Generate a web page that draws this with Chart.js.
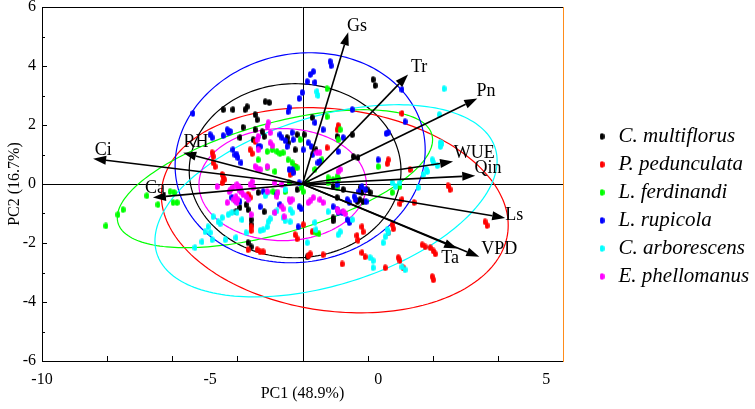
<!DOCTYPE html>
<html><head><meta charset="utf-8">
<script src="https://cdn.jsdelivr.net/npm/chart.js@4.4.0/dist/chart.umd.min.js"></script>
<style>html,body{margin:0;padding:0;background:#fff}#wrap{width:755px;height:409px}</style>
</head><body><div id="wrap"><canvas id="c" width="755" height="409"></canvas></div>
<script>
// ---------- data ----------
const speciesNames = ['C. multiflorus','P. pedunculata','L. ferdinandi','L. rupicola','C. arborescens','E. phellomanus'];
const speciesColors = ['#000000','#FF0000','#00FF00','#0000FF','#00FFFF','#FF00FF'];

const cMultiflorus = [[-4.32,2.52],[-3.96,2.52],[-3.90,2.62],[-3.66,2.35],[-3.60,2.18],[-3.36,2.79],[-3.24,2.76],[-4.02,1.92],[-4.11,1.57],[-3.66,1.84],[-3.72,1.50],[-3.45,1.77],[-0.15,3.54],[-0.09,3.34],[-1.96,2.25],[-0.77,1.67],[-0.74,0.93],[-0.60,0.89],[-1.34,-0.09],[-1.04,-0.19],[-2.41,1.67],[-2.47,1.16],[-3.39,1.61],[-2.71,1.57],[-2.68,1.40],[-2.20,1.67],[-1.85,1.16],[-1.22,1.61],[-0.51,-0.12],[-0.48,-0.29],[-0.62,-0.60],[-1.34,-1.15],[-1.34,-1.25],[-3.93,-0.70],[-3.87,-0.87],[-4.23,-0.94],[-3.78,-1.21],[-3.78,-1.38],[-3.87,-1.99],[-3.78,-2.13],[-3.39,-0.94],[-2.11,-2.47],[-4.11,-0.80],[-3.57,-0.29],[-2.41,-0.19],[-1.22,-0.46],[-0.33,-0.19],[-0.24,-0.29],[-4.61,2.52],[-0.54,-0.53],[-0.45,-0.60]];
const pPedunculata = [[-4.94,1.06],[-4.91,0.93],[-4.91,0.72],[-4.85,0.59],[-4.64,0.32],[-4.61,0.21],[-4.64,0.04],[-3.81,1.16],[-3.75,1.03],[-3.66,1.44],[-2.62,0.32],[-2.53,0.42],[-1.52,1.23],[-1.22,1.84],[-1.19,1.98],[0.71,2.39],[0.30,0.82],[0.27,0.69],[0.95,0.49],[2.08,-0.06],[2.14,-0.19],[3.18,-1.28],[3.24,-1.41],[1.31,-2.06],[1.40,-2.13],[1.55,-2.16],[1.64,-2.27],[1.70,-2.37],[0.60,-2.50],[0.65,-2.60],[0.21,-2.84],[1.61,-3.14],[1.64,-3.25],[0.71,-0.53],[0.65,-0.67],[0.42,-1.38],[0.45,-1.52],[-2.23,-1.38],[-2.47,-1.72],[-2.41,-1.86],[-2.08,-2.44],[-2.02,-2.37],[-1.64,-2.40],[-1.07,-2.71],[-0.63,-1.75],[-0.60,-1.91],[-0.48,-2.33],[-0.39,-2.47],[0.74,-2.84],[-3.42,-2.30],[-3.87,-0.36],[-3.81,-0.46],[-3.87,-2.23],[-3.60,-2.23],[-3.51,-2.30],[-1.96,-1.62],[-0.48,-1.45],[-0.45,-1.62],[-3.78,-1.45],[-3.78,-1.58],[-4.58,0.15],[-2.47,0.59],[1.07,-0.63],[0.30,-1.65]];
const lFerdinandi = [[-8.10,-1.42],[-7.74,-1.04],[-7.59,-0.87],[-6.88,-0.40],[-6.55,-0.70],[-6.19,-0.26],[-6.07,-0.29],[-6.10,-0.63],[-5.98,-0.63],[-2.83,1.06],[-2.68,0.82],[-3.15,1.16],[-3.07,0.42],[-1.52,2.28],[-1.13,1.84],[-1.19,1.50],[-1.22,0.25],[-1.19,0.18],[-1.49,0.21],[-2.11,0.04],[0.42,-0.29],[-3.57,0.82],[-3.30,0.55],[-1.52,3.23],[-3.30,1.10],[-3.01,1.10],[-2.92,1.03],[-2.56,0.72],[-2.50,0.59],[-2.29,-0.12],[-2.23,-0.26],[-2.65,0.04],[-1.49,0.04],[-1.34,0.15],[0.65,-0.09],[-1.85,-1.65],[-1.76,-1.69],[-2.77,-0.26],[-1.22,-0.12],[-3.13,-0.26],[-3.04,-0.29],[-2.41,0.55],[-2.32,1.50],[-1.88,0.49],[-1.67,0.82],[0.00,0.59]];
const lRupicola = [[-1.43,4.15],[-1.40,4.01],[-2.02,3.71],[-1.93,3.81],[-1.88,3.44],[-2.11,3.47],[-2.26,3.10],[-2.35,2.90],[-2.65,2.59],[-2.68,2.45],[-1.88,2.08],[-1.64,1.84],[-4.49,1.84],[-4.46,1.74],[-4.61,1.64],[-4.32,1.16],[-4.20,0.99],[-4.17,0.89],[-3.51,1.27],[-2.92,1.67],[-2.86,1.57],[-2.77,1.47],[-2.71,1.27],[-2.56,0.49],[-2.53,0.38],[-2.23,1.16],[-1.96,0.99],[-1.73,0.76],[-1.04,1.57],[-1.19,1.10],[0.00,0.82],[0.30,1.74],[-0.77,2.52],[-0.48,-0.09],[-0.39,-0.19],[0.71,3.20],[0.80,2.11],[-5.51,2.39],[-5.00,1.67],[-4.94,1.57],[-4.40,1.78],[-4.26,0.99],[-4.35,-0.46],[-4.23,-0.57],[-4.08,0.72],[-3.57,1.27],[-2.56,1.74],[-2.53,1.50],[-2.65,0.49],[-2.35,0.04],[-2.08,1.40],[-1.99,1.27],[-1.79,0.72],[-1.22,-0.02],[-0.92,-0.53],[-0.86,-0.63],[-0.71,-0.43],[0.24,1.71],[-4.11,-0.60],[-3.01,-0.36],[-2.92,-0.70],[-2.35,-0.77],[-2.29,-0.84],[-1.34,-0.77],[-1.22,-0.87],[-1.07,-0.97],[-0.57,-0.26],[-0.36,-0.60],[-3.51,-0.77],[-3.42,-0.26],[-2.38,-1.45],[-0.92,-1.21],[-0.86,-1.31],[-1.19,-0.97],[-0.68,-0.53]];
const cArborescens = [[1.96,3.23],[1.82,2.35],[1.85,1.40],[1.85,1.27],[1.61,0.82],[1.64,0.72],[1.46,0.42],[1.34,0.32],[1.76,0.62],[1.19,-0.12],[0.51,-0.09],[0.27,-1.55],[0.30,-1.65],[0.21,-1.79],[0.15,-1.99],[0.71,-2.81],[-0.24,-2.50],[-0.15,-2.60],[-0.15,-2.84],[0.80,-2.91],[-2.11,-1.99],[-1.13,-1.62],[-1.19,-1.72],[-3.42,-1.55],[-3.30,-1.45],[-2.62,-1.28],[-4.91,-1.11],[-4.76,-1.28],[-4.70,-1.35],[-5.00,-1.65],[-4.55,-1.89],[-4.35,-0.97],[-3.51,-1.58],[-3.27,-1.28],[-3.21,-1.18],[-3.07,-0.97],[-3.01,-0.91],[-2.83,-1.14],[-2.77,-1.25],[-2.62,-0.87],[-2.56,-0.97],[-1.88,-1.31],[-1.49,-0.94],[-3.36,-0.40],[-3.30,-0.29],[-4.05,-1.21],[-5.24,-1.96],[-5.15,-1.62],[-5.45,-2.16],[-5.06,-1.45],[-4.94,-1.89],[-4.64,-1.14],[-4.23,-1.82],[-3.93,-1.65],[-1.85,-1.55],[-0.77,-1.21],[1.43,0.49],[1.90,1.37],[0.65,0.04],[-1.82,3.13],[-1.79,3.00],[-2.77,-0.19],[0.42,0.04],[-4.46,-1.04],[-4.20,-0.97]];
const ePhellomanus = [[-3.51,0.49],[-4.14,-0.09],[-4.08,-0.16],[-4.02,-0.36],[-3.93,-0.43],[-3.87,-0.53],[-4.29,-0.53],[-4.23,-0.43],[-4.43,-0.26],[-4.38,-0.19],[-3.30,0.59],[-3.21,1.74],[-3.21,1.40],[-3.15,1.30],[-2.65,-0.53],[-3.78,-1.04],[-2.80,-1.11],[-1.93,-0.46],[-1.73,-0.53],[-1.64,-0.63],[-4.79,-0.09],[-4.49,-0.63],[-3.07,0.04],[-3.30,1.95],[-3.27,2.08],[-3.60,1.50],[-3.57,1.61],[-3.57,1.16],[-3.66,0.59],[-3.60,0.52],[-4.20,-0.02],[-4.17,-0.12],[-4.11,-0.23],[-4.05,-0.29],[-3.81,-0.02],[-3.72,-0.12],[-4.32,-0.12],[-1.82,1.06],[-1.73,1.06],[-1.19,0.42],[-1.13,0.49],[-2.86,-0.02],[-2.98,-0.29],[-3.75,0.08],[-3.01,-0.43],[-2.86,-0.77],[-2.83,-0.84],[-2.62,-0.60],[-2.56,-0.53],[-2.08,-0.63],[-2.02,-0.57],[-1.22,-0.87],[-1.19,-0.94],[-1.04,-0.94],[-0.98,-1.01],[-3.07,-0.97],[-3.30,-0.26],[-4.17,-0.53],[-4.20,-0.63]];
const speciesScores = [cMultiflorus, pPedunculata, lFerdinandi, lRupicola, cArborescens, ePhellomanus];

// confidence ellipses: centre and two conjugate semi-axis vectors (data units)
const ellipseCenterX = [-2.47, -1.29, -3.07, -2.32, -1.55, -2.84];
const ellipseCenterY = [ 0.45, -0.89,  0.18,  0.89, -0.57, -0.02];
const ellipsePx = [3.15, 5.16, 4.69, 3.72, 5.09, 2.49];
const ellipsePy = [0.00, -0.51, 1.32, 0.27, 1.36, 0.00];
const ellipseQy = [2.95, 3.44, 1.93, 3.55, 2.96, 1.90];

// loading vectors
const variableNames = ['Gs','Tr','Pn','WUE','Qin','Ls','VPD','Ta','Ci','RH','Ca'];
const loadingX = [-0.89, 0.89, 2.95, 2.23, 2.89, 3.78, 3.01, 2.35, -8.48, -5.80, -6.70];
const loadingY = [ 5.14, 3.71, 2.90, 0.76, 0.28, -1.15, -2.47, -2.19, 0.86, 1.06, -0.46];
const labelX = [-0.63, 1.22, 3.21, 2.86, 3.27, 4.05, 3.60, 2.14, -8.18, -5.42, -6.64];
const labelY = [ 5.34, 3.95, 3.16, 1.03, 0.55, -1.05, -2.20, -2.53, 1.13, 1.40, -0.16];
const arrowOrigin = [-2.25, 0];

const xTickLabels = [-10, -5, 0, 5];
const yTickLabels = [-6, -4, -2, 0, 2, 4, 6];
const xMinorTicks = [-8.0625, -6.125, -4.1875, -2.25, -0.3125, 1.625, 3.5625];
const yMinorTicks = [-5, -4, -3, -2, -1, 1, 2, 3, 4, 5];

// ---------- drawing ----------
const FONT = 'Liberation Serif';
function dot(color){
  const c = document.createElement('canvas'); c.width = 5; c.height = 7;
  const g = c.getContext('2d'); g.fillStyle = color;
  g.beginPath(); g.ellipse(2.5, 3.5, 2.4, 3.3, 0, 0, Math.PI*2); g.fill();
  return c;
}

const datasets = speciesNames.map((n, i) => ({
  label: n,
  data: speciesScores[i].map(p => ({x: p[0], y: p[1]})),
  backgroundColor: speciesColors[i],
  borderColor: speciesColors[i],
  pointStyle: dot(speciesColors[i]),
  pointRadius: 3,
  order: speciesNames.length - i
}));

const decor = {
  id: 'decor',
  beforeDatasetsDraw(chart){
    const {ctx, chartArea: a, scales: {x, y}} = chart;
    ctx.save();
    ctx.beginPath(); ctx.rect(a.left, a.top, a.right - a.left, a.bottom - a.top); ctx.clip();
    ctx.strokeStyle = '#000'; ctx.lineWidth = 1;
    ctx.beginPath();
    const vx = Math.round(x.getPixelForValue(arrowOrigin[0])) + 0.5;
    const hy = Math.round(y.getPixelForValue(arrowOrigin[1])) + 0.5;
    ctx.moveTo(vx, a.top); ctx.lineTo(vx, a.bottom);
    ctx.moveTo(a.left, hy); ctx.lineTo(a.right, hy);
    ctx.stroke();
    ctx.lineWidth = 1.2;
    for (let i = 0; i < speciesNames.length; i++) {
      ctx.strokeStyle = speciesColors[i];
      ctx.beginPath();
      for (let k = 0; k <= 200; k++) {
        const t = k / 200 * Math.PI * 2;
        const dx = ellipseCenterX[i] + ellipsePx[i] * Math.cos(t);
        const dy = ellipseCenterY[i] + ellipsePy[i] * Math.cos(t) + ellipseQy[i] * Math.sin(t);
        const px = x.getPixelForValue(dx), py = y.getPixelForValue(dy);
        if (k === 0) ctx.moveTo(px, py); else ctx.lineTo(px, py);
      }
      ctx.closePath(); ctx.stroke();
    }
    ctx.restore();
  },
  afterDatasetsDraw(chart){
    const {ctx, scales: {x, y}} = chart;
    ctx.save();
    const ox = x.getPixelForValue(arrowOrigin[0]), oy = y.getPixelForValue(arrowOrigin[1]);
    ctx.strokeStyle = '#000'; ctx.fillStyle = '#000'; ctx.lineWidth = 1.6;
    for (let i = 0; i < variableNames.length; i++) {
      const tx = x.getPixelForValue(loadingX[i]), ty = y.getPixelForValue(loadingY[i]);
      const ang = Math.atan2(ty - oy, tx - ox);
      const L = 13, W = 4.5;
      const bx = tx - L * Math.cos(ang), by = ty - L * Math.sin(ang);
      ctx.beginPath(); ctx.moveTo(ox, oy); ctx.lineTo(bx, by); ctx.stroke();
      ctx.beginPath();
      ctx.moveTo(tx, ty);
      ctx.lineTo(bx + W * Math.sin(ang), by - W * Math.cos(ang));
      ctx.lineTo(bx - W * Math.sin(ang), by + W * Math.cos(ang));
      ctx.closePath(); ctx.fill();
    }
    ctx.font = '18px "' + FONT + '"';
    ctx.textAlign = 'center'; ctx.textBaseline = 'middle';
    for (let i = 0; i < variableNames.length; i++) {
      ctx.fillText(variableNames[i], x.getPixelForValue(labelX[i]), y.getPixelForValue(labelY[i]));
    }
    ctx.restore();
  },
  afterDraw(chart){
    const {ctx, chartArea: a, scales: {x, y}} = chart;
    ctx.save(); ctx.strokeStyle = '#000'; ctx.lineWidth = 1;
    ctx.beginPath();
    const top = Math.round(a.top) + 0.5;
    ctx.moveTo(a.left, top); ctx.lineTo(a.right, top);
    for (const v of xMinorTicks) {
      const px = Math.round(x.getPixelForValue(v)) + 0.5;
      ctx.moveTo(px, a.bottom); ctx.lineTo(px, a.bottom - 5);
    }
    for (const v of yMinorTicks) {
      const py = Math.round(y.getPixelForValue(v)) + 0.5;
      const len = (v % 2 === 0) ? 5 : 3;
      ctx.moveTo(a.left, py); ctx.lineTo(a.left + len, py);
    }
    ctx.stroke(); ctx.restore();
  }
};

new Chart(document.getElementById('c'), {
  type: 'scatter',
  data: { datasets },
  options: {
    responsive: false, animation: false, devicePixelRatio: 1, events: [],
    layout: { padding: { left: 0, right: 0, top: 7, bottom: 0 } },
    scales: {
      x: {
        type: 'linear', position: 'bottom', min: -10, max: 5.5,
        afterBuildTicks: s => { s.ticks = xTickLabels.map(v => ({ value: v })); },
        afterFit: s => { s.height = 48; s.paddingLeft = 0; s.paddingRight = 0; },
        grid: { display: false, drawTicks: false },
        border: { display: true, color: '#000', width: 1 },
        ticks: { autoSkip: false, maxRotation: 0, padding: 9, color: '#000', font: { family: FONT, size: 16 } },
        title: { display: true, text: 'PC1 (48.9%)', color: '#000', font: { family: FONT, size: 16 }, padding: { top: 0, bottom: 6 } }
      },
      y: {
        type: 'linear', position: 'left', min: -6, max: 6,
        afterBuildTicks: s => { s.ticks = yTickLabels.map(v => ({ value: v })); },
        afterFit: s => { s.width = 42; s.paddingTop = 0; s.paddingBottom = 0; },
        grid: { display: false, drawTicks: false },
        border: { display: true, color: '#000', width: 1 },
        ticks: { padding: 6, color: '#000', font: { family: FONT, size: 16 } },
        title: { display: true, text: 'PC2 (16.7%)', color: '#000', font: { family: FONT, size: 16 }, padding: { top: 5, bottom: 0 } }
      },
      yR: {
        type: 'linear', position: 'right', min: -6, max: 6,
        afterFit: s => { s.width = 26; s.paddingTop = 0; s.paddingBottom = 0; },
        grid: { display: false, drawTicks: false },
        border: { display: true, color: '#FF8C1A', width: 1 },
        ticks: { display: false }
      }
    },
    plugins: {
      tooltip: { enabled: false },
      legend: {
        position: 'right', align: 'start', maxWidth: 166,
        title: { display: true, text: ' ', font: { size: 10 }, padding: { top: 0, bottom: 100 } },
        labels: { usePointStyle: true, pointStyleWidth: 12, padding: 7, color: '#000',
          sort: (a, b) => a.datasetIndex - b.datasetIndex,
          font: { family: FONT, size: 21, style: 'italic' } }
      }
    }
  },
  plugins: [decor]
});
</script>
</body></html>
